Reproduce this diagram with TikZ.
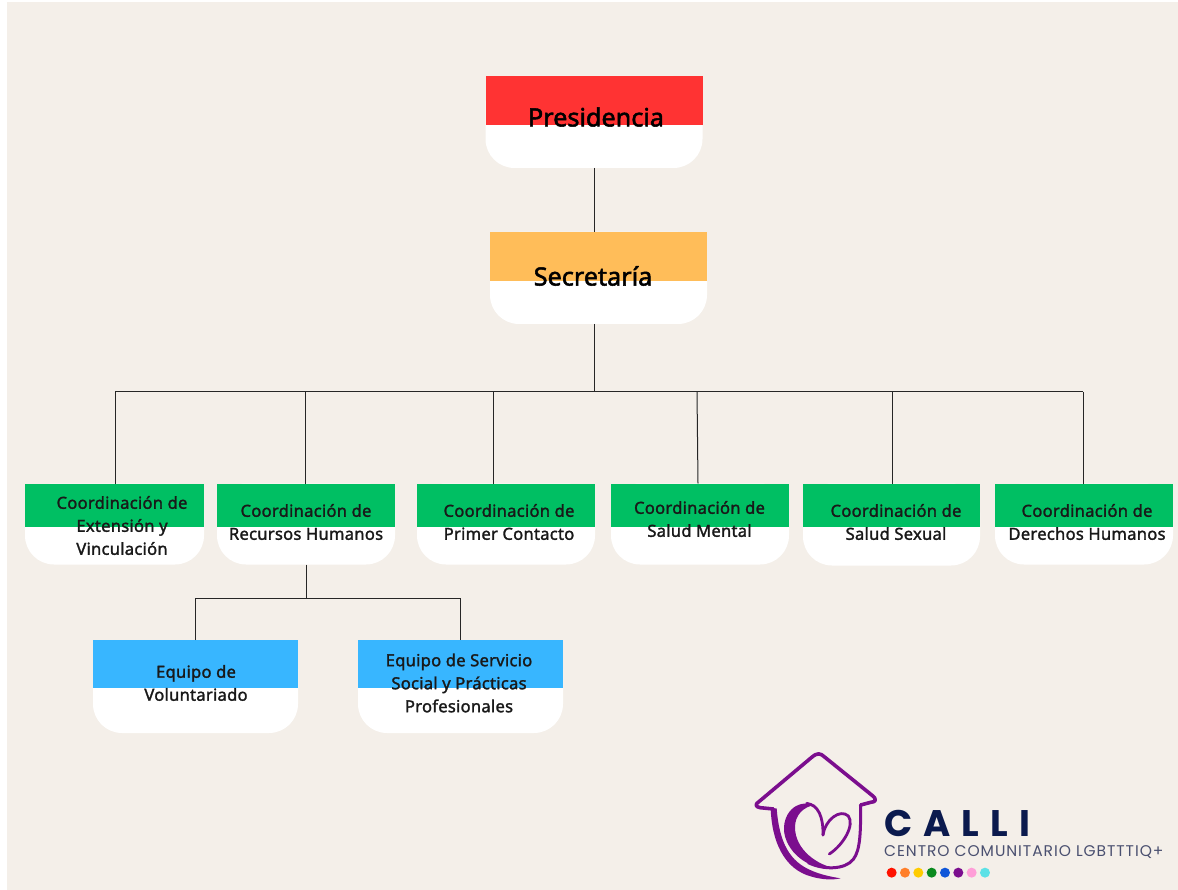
\documentclass[tikz,border=0pt]{standalone}
\usepackage{fontspec}
\setmainfont{Noto Sans}
\newfontfamily\cardfont[FakeBold=1.6,LetterSpace=1.5]{Noto Sans}
\newfontfamily\titlefont[FakeBold=2]{Noto Sans}
\newfontfamily\logofont[LetterSpace=30]{Poppins}
\newfontfamily\sublogofont[LetterSpace=6]{Poppins}
\usetikzlibrary{calc}
\definecolor{paper}{HTML}{F4EFE9}
\definecolor{presred}{HTML}{FF3333}
\definecolor{secorange}{HTML}{FFBD59}
\definecolor{coordgreen}{HTML}{00BF63}
\definecolor{teamblue}{HTML}{38B6FF}
\definecolor{logopurple}{HTML}{7B0E8E}
\definecolor{logonavy}{HTML}{0B1A4E}
\definecolor{logogrey}{HTML}{4A5070}
\definecolor{dotyellow}{HTML}{FFCC00}
\definecolor{dotgreen}{HTML}{0A8A1E}
\definecolor{dotblue}{HTML}{0F56D9}
\definecolor{dotorange}{HTML}{FF7F2A}
\definecolor{dotred}{HTML}{FF1200}
\definecolor{dotpink}{HTML}{FF9ED8}
\definecolor{dotcyan}{HTML}{5CE1E6}
\tikzset{
	card/.style={fill=white, rounded corners=29pt, inner sep=0pt, outer sep=0pt},
	bigtitle/.style={font=\fontsize{25.2}{26}\selectfont\titlefont, text=black, inner sep=0pt},
	cardtext/.style={font=\fontsize{16.6}{23}\selectfont\cardfont, text=black!90, align=center, inner sep=0pt},
	orgline/.style={line width=1pt, color=black!85},
	houseline/.style={draw=logopurple, line cap=round, line join=round}
}
\def\orgcard[#1](#2)(#3:#4:#5:#6){\node[card, minimum width=#4pt, minimum height=#5pt] (#2) at (#3) {}; \fill[#1] (#2.north west) rectangle ([yshift=-#6pt]#2.north east);}

\begin{document}
\begin{tikzpicture}[x=1pt,y=-1pt]
	\useasboundingbox (0,0) rectangle (1178,890);
	\fill[white] (0,0) rectangle (1178,890);
	\fill[paper] (7,2) rectangle (1178,890);

	%%%%% CARDS %%%%%
	\orgcard[presred](pres)(594,122:217:92:49);
	\orgcard[secorange](sec)(598.5,278:217:92:49);

	\orgcard[coordgreen](extension)(114.5,524:179:81:43);
	\orgcard[coordgreen](recursos)(306,524:178:81:43);
	\orgcard[coordgreen](primer)(506,524:178:81:43);
	\orgcard[coordgreen](mental)(700,524:178:81:43);
	\orgcard[coordgreen](sexual)(891.5,524.5:177:82:43);
	\orgcard[coordgreen](derechos)(1084,524:178:81:43);

	\orgcard[teamblue](voluntariado)(195.5,686.5:205:93:48);
	\orgcard[teamblue](servicio)(460.5,686.5:205:93:48);

	%%%%% TEXTS %%%%%
	\node[bigtitle] (presText) at (596,117) {Presidencia};
	\node[bigtitle] (secText) at (593,276) {Secretaría};

	\node[cardtext] (extensionText) at (122,525.5) {Coordinación de\\Extensión y\\Vinculación};
	\node[cardtext] (recursosText) at (306,522) {Coordinación de\\Recursos Humanos};
	\node[cardtext] (primerText) at (509,522) {Coordinación de\\Primer Contacto};
	\node[cardtext] (mentalText) at (699.5,519) {Coordinación de\\Salud Mental};
	\node[cardtext] (sexualText) at (896,522) {Coordinación de\\Salud Sexual};
	\node[cardtext] (derechosText) at (1087,522) {Coordinación de\\Derechos Humanos};

	\node[cardtext] (voluntariadoText) at (196,683) {Equipo de\\Voluntariado};
	\node[cardtext] (servicioText) at (459,683) {Equipo de Servicio\\Social y Prácticas\\Profesionales};

	%%%%% LINES %%%%%
	\draw[orgline] (pres.south) -- (sec.north -| pres.south);

	\coordinate (secBus) at (594,392);
	\coordinate (busLeft) at (115,392);
	\coordinate (busRight) at (1083,392);
	\draw[orgline] (sec.south -| secBus) -- (secBus);
	\draw[orgline] (busLeft) -- (busRight);
	\draw[orgline] (busLeft) -- (busLeft |- extension.north);
	\draw[orgline] (busRight) -- (busRight |- derechos.north);
	\foreach \name/\xbus in {recursos/305, primer/493, sexual/892}{
		\coordinate (drop\name) at (\xbus,392);
		\draw[orgline] (drop\name) -- (drop\name |- \name.north);
	}
	\coordinate (dropmental) at (697,392);
	\draw[orgline] (dropmental) -- ([xshift=1pt]dropmental |- mental.north);

	\coordinate (teamBus) at (306,598);
	\coordinate (teamLeft) at (195,598);
	\coordinate (teamRight) at (460,598);
	\draw[orgline] (recursos.south) -- (teamBus);
	\draw[orgline] (teamLeft |- voluntariado.north) -- (teamLeft) -- (teamRight) -- (teamRight |- servicio.north);

	%%%%% LOGO %%%%%
	\begin{scope}[shift={(740,740)}, x=0.3333pt, y=-0.3333pt]
		% roof and walls
		\draw[houseline, line width=3.6pt] (100,207) -- (60,203) .. controls (45,200) and (45,192) .. (58,184) -- (215,52) .. controls (232,38) and (240,38) .. (255,52) -- (395,165) .. controls (412,178) and (408,186) .. (392,187) -- (362,195);
		% right wall and inner sweep
		\draw[houseline, line width=3pt] (362,195) .. controls (362,270) and (362,330) .. (340,358) .. controls (315,390) and (250,390) .. (205,368);
		% left wall
		\fill[logopurple] (92,205) .. controls (95,300) and (130,388) .. (215,410) .. controls (250,420) and (280,420) .. (302,415) .. controls (270,410) and (240,403) .. (215,392) .. controls (150,365) and (118,310) .. (110,205) -- cycle;
		% heart
		\fill[logopurple] (225,195) .. controls (165,175) and (125,225) .. (133,280) .. controls (145,345) and (215,395) .. (290,385) .. controls (235,378) and (165,330) .. (165,262) .. controls (165,225) and (190,200) .. (225,195) -- cycle;
		\draw[houseline, line width=2.8pt] (200,190) .. controls (235,195) and (250,230) .. (249,285);
		\draw[houseline, line width=2.8pt] (249,285) .. controls (255,240) and (300,205) .. (325,228) .. controls (345,255) and (310,315) .. (268,342);
		% dots
		\foreach \dotcolor [count=\i from 0] in {dotred,dotorange,dotyellow,dotgreen,dotblue,logopurple,dotpink,dotcyan}{
			\fill[\dotcolor] (455+40*\i,398) circle (15);
		}
	\end{scope}
	\node[font=\fontsize{37}{37}\selectfont\logofont\bfseries, text=logonavy, inner sep=0pt, anchor=west] (calliText) at (884,823) {CALLI};
	\node[font=\fontsize{15.5}{16}\selectfont\sublogofont, text=logogrey, inner sep=0pt, anchor=west] (centroText) at (884,852) {CENTRO COMUNITARIO LGBTTTIQ+};
\end{tikzpicture}
\end{document}
